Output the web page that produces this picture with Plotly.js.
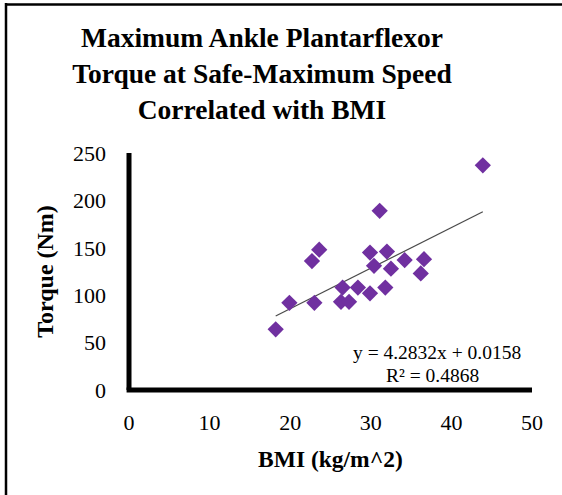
<!DOCTYPE html>
<html>
<head>
<meta charset="utf-8">
<script src="https://cdn.plot.ly/plotly-3.0.1.min.js"></script>
<style>html,body{margin:0;padding:0;background:#fff;}#chart{width:562px;height:495px;}</style>
</head>
<body>
<div id="chart"></div>
<script>
// Data
const bmi    = [43.9, 31.1, 23.6, 22.7, 29.9, 32.0, 30.4, 32.5, 34.2, 36.6, 36.2, 26.5, 28.4, 31.8, 29.9, 26.3, 27.3, 23.0, 19.9, 18.2];
const torque = [237, 189, 148, 136, 145, 146, 131, 128, 137, 138, 123, 108, 108, 108, 102, 93, 93, 92, 92, 64];
const slope = 4.2832;
const intercept = 0.0158;
const r2 = 0.4868;
const xTicks = [0, 10, 20, 30, 40, 50];
const yTicks = [0, 50, 100, 150, 200, 250];

const W = 562, H = 495;
const M = {l: 129, r: 30, t: 153, b: 105};
const pw = W - M.l - M.r, ph = H - M.t - M.b;
const px2x = p => (p - M.l) / pw;
const py2y = p => (H - M.b - p) / ph;

const xmin = Math.min(...bmi), xmax = Math.max(...bmi);
const trendX = [xmin, xmax];
const trendY = trendX.map(v => slope * v + intercept);

const font = 'Liberation Serif, Times New Roman, serif';

const traces = [
  {x: trendX, y: trendY, mode: 'lines', type: 'scatter',
   line: {color: '#4a4a4a', width: 1.2}, hoverinfo: 'skip', showlegend: false},
  {x: bmi, y: torque, mode: 'markers', type: 'scatter',
   marker: {symbol: 'diamond', size: 12.5, color: '#7030A0', line: {width: 0}}, showlegend: false}
];

const layout = {
  width: W, height: H,
  margin: M,
  paper_bgcolor: '#ffffff', plot_bgcolor: '#ffffff',
  font: {family: font, color: '#000000', size: 22},
  title: {
    text: 'Maximum Ankle Plantarflexor<br>Torque at Safe-Maximum Speed<br>Correlated with BMI',
    font: {family: font, size: 27.5, color: '#000', weight: 'bold'},
    x: 262 / W, xanchor: 'center', xref: 'container',
    y: 1 - 47 / H, yanchor: 'middle', yref: 'container'
  },
  xaxis: {
    range: [0, 50], tickvals: xTicks, ticktext: xTicks.map(String),
    showgrid: false, zeroline: false, showline: false, ticks: '',
    ticklabelstandoff: 17,
    tickfont: {family: font, size: 22, color: '#000'},
    title: {text: 'BMI (kg/m^2)', font: {family: font, size: 23.5, color: '#000', weight: 'bold'}, standoff: 16}
  },
  yaxis: {
    range: [0, 250], tickvals: yTicks, ticktext: yTicks.map(String),
    showgrid: false, zeroline: false, showline: false, ticks: '',
    ticklabelstandoff: 22,
    tickfont: {family: font, size: 22, color: '#000'},
    title: {text: 'Torque (Nm)', font: {family: font, size: 24, color: '#000', weight: 'bold'}, standoff: 12}
  },
  shapes: [
    {type: 'line', xref: 'paper', yref: 'paper', x0: 0, x1: 0, y0: 0, y1: 1, line: {color: '#000', width: 5}},
    {type: 'line', xref: 'paper', yref: 'paper', x0: -0.006, x1: 1, y0: 0, y1: 0, line: {color: '#000', width: 5}},
    {type: 'line', xref: 'paper', yref: 'paper', x0: px2x(6), x1: px2x(6), y0: py2y(3), y1: py2y(500), line: {color: '#000', width: 2.5}},
    {type: 'line', xref: 'paper', yref: 'paper', x0: px2x(5), x1: px2x(565), y0: py2y(4.5), y1: py2y(4.5), line: {color: '#000', width: 2.5}}
  ],
  annotations: [
    {xref: 'paper', yref: 'paper', x: px2x(437), y: py2y(352), xanchor: 'center', yanchor: 'middle',
     text: 'y = ' + slope + 'x + ' + intercept, showarrow: false, font: {family: font, size: 19.5, color: '#000'}},
    {xref: 'paper', yref: 'paper', x: px2x(432), y: py2y(375), xanchor: 'center', yanchor: 'middle',
     text: 'R² = ' + r2, showarrow: false, font: {family: font, size: 19.5, color: '#000'}}
  ]
};

Plotly.newPlot('chart', traces, layout, {displayModeBar: false, staticPlot: true});
</script>
</body>
</html>
